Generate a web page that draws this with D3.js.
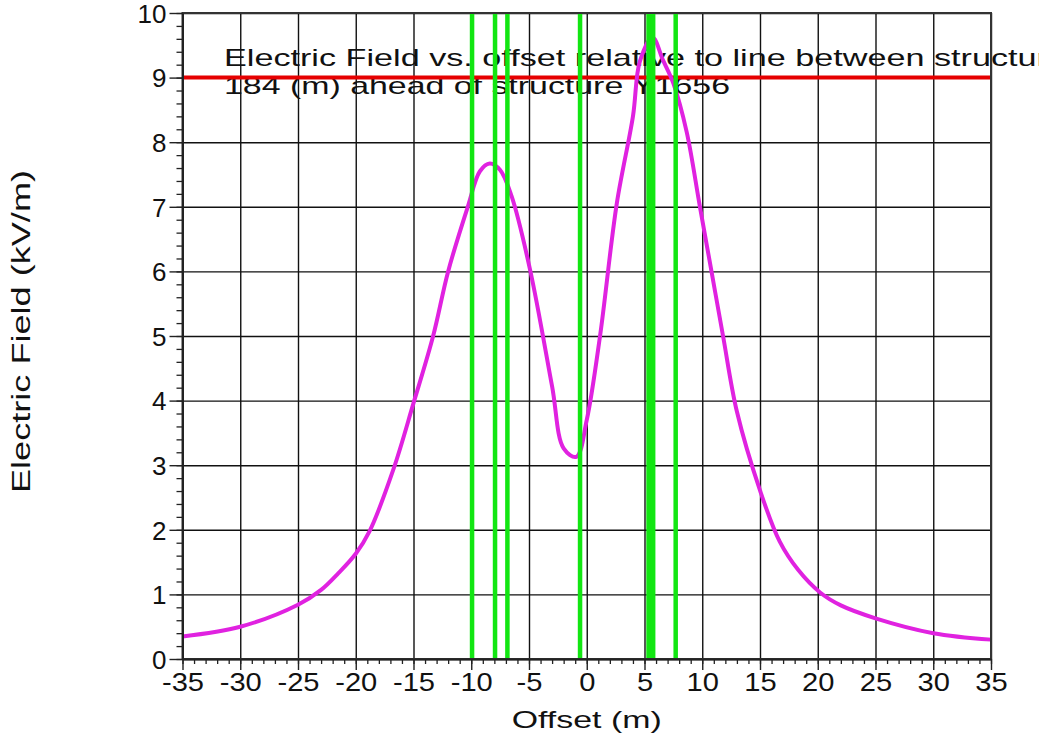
<!DOCTYPE html>
<html>
<head>
<meta charset="utf-8">
<script src="https://cdn.jsdelivr.net/npm/d3@7"></script>
<style>
  body { margin: 0; background: #fff; }
  svg { display: block; font-family: "Liberation Sans", Arial, sans-serif; }
</style>
</head>
<body>
<svg id="chart" width="1039" height="742"></svg>
<script>
// offset (m) and electric field (kV/m)
var offsets = [-35, -30, -25, -23, -21.5, -20, -18.8, -16.75, -15, -13.3, -12, -10.3, -9.25, -8.4, -7.5, -6.5, -4.9, -3, -2, -0.9, 0, 1.15, 2.6, 4, 4.6, 5.7, 6.6, 7.5, 8.65, 9.8, 10.8, 11.8, 13, 15, 16.7, 18.3, 20.2, 22, 25, 30, 35];
var fieldKV = [0.35, 0.5, 0.84, 1.07, 1.33, 1.63, 1.98, 2.93, 3.96, 5.0, 6.0, 7.0, 7.55, 7.67, 7.57, 7.16, 6.02, 4.22, 3.26, 3.13, 3.7, 5.0, 7.05, 8.4, 9.25, 9.62, 9.27, 8.91, 8.16, 7.0, 6.0, 5.0, 3.83, 2.61, 1.82, 1.38, 1.03, 0.83, 0.63, 0.40, 0.30];

// conductor positions (green markers) and field limit (red line)
var conductorOffsets = [-9.93, -7.94, -6.87, -0.58, 5.35, 5.55, 5.75, 7.7];
var limitKV = [9];

var xTickValues = d3.range(-35, 36, 5);
var yTickValues = d3.range(0, 11, 1);
var xMinorValues = d3.range(-35, 36, 1);
var yMinorValues = d3.range(0, 10.01, 0.2);

var titleLines = ["Electric Field vs. offset relative to line between structures", "184 (m) ahead of structure Y1656"];

var svg = d3.select("#chart");

var x = d3.scaleLinear().domain([-35, 35]).range([182.5, 991]);
var y = d3.scaleLinear().domain([0, 10]).range([659, 13]);

//grid lines
svg.append("g")
    .attr("transform", "translate(0," + y(0) + ")")
    .call(d3.axisBottom(x).tickValues(xTickValues).tickSize(-(y(0) - y(10))).tickFormat(""))
    .call(g => g.select(".domain").remove())
    .call(g => g.selectAll("line").attr("stroke", "#111").attr("stroke-width", 1.4));
svg.append("g")
    .attr("transform", "translate(" + x(-35) + ",0)")
    .call(d3.axisLeft(y).tickValues(yTickValues).tickSize(-(x(35) - x(-35))).tickFormat(""))
    .call(g => g.select(".domain").remove())
    .call(g => g.selectAll("line").attr("stroke", "#111").attr("stroke-width", 1.4));

//title inside the plot
svg.append("text")
    .attr("x", 224).attr("y", 66)
    .attr("font-size", 24).attr("fill", "#111")
    .attr("textLength", 860).attr("lengthAdjust", "spacingAndGlyphs")
    .text(titleLines[0]);
svg.append("text")
    .attr("x", 224).attr("y", 94)
    .attr("font-size", 24).attr("fill", "#111")
    .attr("textLength", 506).attr("lengthAdjust", "spacingAndGlyphs")
    .text(titleLines[1]);

//limit line
svg.selectAll(".limit")
    .data(limitKV).enter()
    .append("line")
    .attr("class", "limit")
    .attr("x1", x(-35)).attr("x2", x(35))
    .attr("y1", d => y(d)).attr("y2", d => y(d))
    .attr("stroke", "#e60000")
    .attr("stroke-width", 4);

//field curve
var pts = offsets.map((o, i) => [o, fieldKV[i]]);
svg.append("path")
    .datum(pts)
    .attr("fill", "none")
    .attr("stroke", "#e022e0")
    .attr("stroke-width", 4)
    .attr("stroke-linejoin", "round")
    .attr("d", d3.line().x(d => x(d[0])).y(d => y(d[1])).curve(d3.curveCatmullRom.alpha(0.5)));

//conductor markers
svg.selectAll(".cond")
    .data(conductorOffsets).enter()
    .append("line")
    .attr("class", "cond")
    .attr("x1", d => x(d)).attr("x2", d => x(d))
    .attr("y1", y(10)).attr("y2", y(0))
    .attr("stroke", "#12e612")
    .attr("stroke-width", 4.5);

//frame
svg.append("rect")
    .attr("x", x(-35)).attr("y", y(10))
    .attr("width", x(35) - x(-35)).attr("height", y(0) - y(10))
    .attr("fill", "none").attr("stroke", "#333").attr("stroke-width", 2);

//minor ticks
svg.append("g")
    .attr("transform", "translate(0," + y(0) + ")")
    .call(d3.axisBottom(x).tickValues(xMinorValues).tickSize(5).tickFormat(""))
    .call(g => g.select(".domain").remove())
    .call(g => g.selectAll("line").attr("stroke", "#222").attr("stroke-width", 1.3));
svg.append("g")
    .attr("transform", "translate(" + x(-35) + ",0)")
    .call(d3.axisLeft(y).tickValues(yMinorValues).tickSize(6).tickFormat(""))
    .call(g => g.select(".domain").remove())
    .call(g => g.selectAll("line").attr("stroke", "#222").attr("stroke-width", 1.3));

//major ticks and labels (plain hyphen for negatives, like the original)
svg.append("g")
    .attr("transform", "translate(0," + y(0) + ")")
    .call(d3.axisBottom(x).tickValues(xTickValues).tickSize(11).tickPadding(2).tickSizeOuter(0).tickFormat(d => String(d)))
    .call(g => g.select(".domain").attr("stroke", "#222").attr("stroke-width", 2))
    .call(g => g.selectAll("line").attr("stroke", "#222").attr("stroke-width", 1.4))
    .call(g => g.selectAll("text")
        .attr("font-size", 26).attr("fill", "#111")
        .attr("font-family", "Liberation Sans, Arial, sans-serif")
        .attr("dy", "0.72em")
        .attr("transform", "scale(1.12,1)"));
svg.append("g")
    .attr("transform", "translate(" + x(-35) + ",0)")
    .call(d3.axisLeft(y).tickValues(yTickValues).tickSize(13).tickPadding(3).tickSizeOuter(0).tickFormat(d => String(d)))
    .call(g => g.select(".domain").attr("stroke", "#222").attr("stroke-width", 2))
    .call(g => g.selectAll("line").attr("stroke", "#222").attr("stroke-width", 1.4))
    .call(g => g.selectAll("text")
        .attr("font-size", 26).attr("fill", "#111")
        .attr("font-family", "Liberation Sans, Arial, sans-serif")
        .attr("dy", "0.36em"));

//axis titles
svg.append("text")
    .attr("x", 511.7).attr("y", 728)
    .attr("font-size", 24).attr("fill", "#111")
    .attr("textLength", 150).attr("lengthAdjust", "spacingAndGlyphs")
    .text("Offset (m)");
svg.append("text")
    .attr("transform", "translate(30,493) rotate(-90)")
    .attr("font-size", 25).attr("fill", "#111")
    .attr("textLength", 323).attr("lengthAdjust", "spacingAndGlyphs")
    .text("Electric Field (kV/m)");
</script>
</body>
</html>
